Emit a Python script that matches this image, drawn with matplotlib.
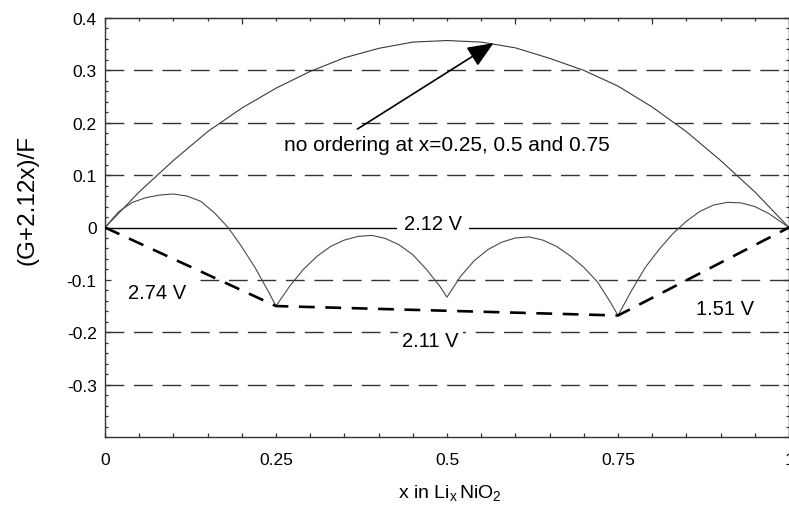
import matplotlib
matplotlib.use("Agg")
import matplotlib.pyplot as plt
from matplotlib.ticker import MultipleLocator, FixedLocator, NullFormatter

plt.rcParams['font.family'] = ['Liberation Sans', 'DejaVu Sans']
plt.rcParams['mathtext.fontset'] = 'custom'
plt.rcParams['mathtext.rm'] = 'Liberation Sans'
plt.rcParams['mathtext.it'] = 'Liberation Sans:italic'

# ---- data ----
upper_x = [0, 0.05, 0.1, 0.15, 0.2, 0.25, 0.3, 0.35, 0.4, 0.45, 0.5,
           0.55, 0.6, 0.65, 0.7, 0.75, 0.8, 0.85, 0.9, 0.95, 1.0]
upper_y = [0, 0.068, 0.128, 0.183, 0.228, 0.266, 0.298, 0.324, 0.342, 0.354, 0.357,
           0.354, 0.343, 0.323, 0.300, 0.270, 0.230, 0.183, 0.128, 0.068, 0]

lower_x = [0, 0.02, 0.04, 0.06, 0.08, 0.10, 0.12, 0.14, 0.16, 0.18, 0.20, 0.22, 0.24, 0.25,
           0.27, 0.29, 0.31, 0.33, 0.35, 0.37, 0.39, 0.41, 0.43, 0.45, 0.47, 0.49, 0.50,
           0.52, 0.54, 0.56, 0.58, 0.60, 0.62, 0.64, 0.66, 0.68, 0.70, 0.72, 0.74, 0.75,
           0.77, 0.79, 0.81, 0.83, 0.85, 0.87, 0.89, 0.91, 0.93, 0.95, 0.97, 0.99, 1.0]
lower_y = [0, 0.030, 0.048, 0.057, 0.062, 0.064, 0.060, 0.050, 0.028, 0.000, -0.037, -0.078, -0.125, -0.150,
           -0.112, -0.080, -0.055, -0.036, -0.024, -0.017, -0.015, -0.021, -0.033, -0.052, -0.080, -0.113, -0.133,
           -0.093, -0.063, -0.042, -0.028, -0.020, -0.018, -0.024, -0.036, -0.054, -0.076, -0.104, -0.145, -0.168,
           -0.120, -0.076, -0.042, -0.012, 0.012, 0.031, 0.043, 0.048, 0.047, 0.040, 0.027, 0.009, 0.0]

hull_x = [0, 0.25, 0.75, 1.0]
hull_y = [0, -0.150, -0.168, 0]

zero_level = 0.0
grid_levels = [0.3, 0.2, 0.1, -0.2, -0.3]
grid_partial = -0.1

x_ticks = [0, 0.25, 0.5, 0.75, 1]
x_ticklabels = ['0', '0.25', '0.5', '0.75', '1']
y_ticks = [-0.3, -0.2, -0.1, 0, 0.1, 0.2, 0.3, 0.4]
y_ticklabels = ['-0.3', '-0.2', '-0.1', '0', '0.1', '0.2', '0.3', '0.4']

voltage_labels = ['2.74 V', '2.11 V', '1.51 V', '2.12 V']

# ---- figure ----
fig = plt.figure(figsize=(7.89, 5.10), dpi=100)
ax = fig.add_axes([105/789, 1-438/510, (789-105)/789, (438-19)/510])
ax.set_xlim(0, 1)
ax.set_ylim(-0.4, 0.4)

dash_grid = (0, (13.5, 7))
for lv in grid_levels:
    ax.hlines(lv, 0, 1, colors='#333333', linewidth=1.0, linestyles=[dash_grid], zorder=1)
ax.hlines(grid_partial, 0.139, 1, colors='#333333', linewidth=1.0, linestyles=[dash_grid], zorder=1)

ax.hlines(zero_level, 0, 1, colors='black', linewidth=1.0, zorder=2)

ax.plot(upper_x, upper_y, color='#3a3a3a', linewidth=0.8, zorder=4)
ax.plot(lower_x, lower_y, color='#4a4a4a', linewidth=0.8, zorder=4)
ax.plot(hull_x, hull_y, color='black', linewidth=1.9, linestyle=(0, (6, 4)), zorder=4)

tfs = 14.5
ax.text(0.076, -0.125, voltage_labels[0], fontsize=tfs, ha='center', va='center', zorder=3)
ax.text(0.476, -0.215, voltage_labels[1], fontsize=tfs, ha='center', va='center', zorder=3,
        bbox=dict(facecolor='white', edgecolor='none', pad=3))
ax.text(0.906, -0.155, voltage_labels[2], fontsize=tfs, ha='center', va='center', zorder=3)
ax.text(0.48, -0.003, voltage_labels[3], fontsize=tfs, ha='center', va='baseline', zorder=3,
        bbox=dict(facecolor='white', edgecolor='none', pad=5))

ax.text(0.50, 0.158, 'no ordering at x=0.25, 0.5 and 0.75', fontsize=15,
        ha='center', va='center', zorder=3)
ax.annotate('', xy=(0.568, 0.352), xytext=(0.369, 0.188),
            arrowprops=dict(arrowstyle='-|>,head_length=1.0,head_width=0.42',
                            mutation_scale=16, color='black', linewidth=1.2,
                            shrinkA=0, shrinkB=0), zorder=5)

# ticks
ax.xaxis.set_major_locator(FixedLocator(x_ticks))
ax.set_xticklabels(x_ticklabels)
ax.xaxis.set_minor_locator(MultipleLocator(0.05))
ax.yaxis.set_major_locator(FixedLocator(y_ticks))
ax.set_yticklabels(y_ticklabels)
ax.yaxis.set_minor_locator(MultipleLocator(0.02))
ax.tick_params(axis='x', which='both', direction='in', length=3, width=0.9,
               color='#333333', labelsize=12.5, pad=11)
ax.tick_params(axis='y', which='major', direction='in', length=4.5, width=0.9,
               color='#333333', labelsize=12.5, pad=6)
ax.tick_params(axis='y', which='minor', direction='in', length=2.5, width=0.9, color='#333333')

secx = ax.secondary_xaxis('top')
secx.xaxis.set_major_locator(MultipleLocator(0.2))
secx.xaxis.set_minor_locator(MultipleLocator(0.05))
secx.xaxis.set_major_formatter(NullFormatter())
secx.tick_params(which='major', direction='in', length=4, width=0.9, color='#333333')
secx.tick_params(which='minor', direction='in', length=2.5, width=0.9, color='#333333')
secx.spines['top'].set_color('#333333')

secy = ax.secondary_yaxis('right')
secy.yaxis.set_major_locator(MultipleLocator(0.1))
secy.yaxis.set_minor_locator(MultipleLocator(0.02))
secy.yaxis.set_major_formatter(NullFormatter())
secy.tick_params(which='major', direction='in', length=4.5, width=0.9, color='#333333')
secy.tick_params(which='minor', direction='in', length=2.5, width=0.9, color='#333333')

for s in ax.spines.values():
    s.set_color('#333333')
    s.set_linewidth(1.0)

fig.text(28/789, 1-200/510, '(G+2.12x)/F', rotation=90, fontsize=17.5,
         ha='center', va='center')
fig.text(450/789, 1-493/510, r'x in Li$_\mathrm{x}\,$NiO$_\mathrm{2}$', fontsize=14,
         ha='center', va='center')

fig.savefig('out.png', dpi=100)
